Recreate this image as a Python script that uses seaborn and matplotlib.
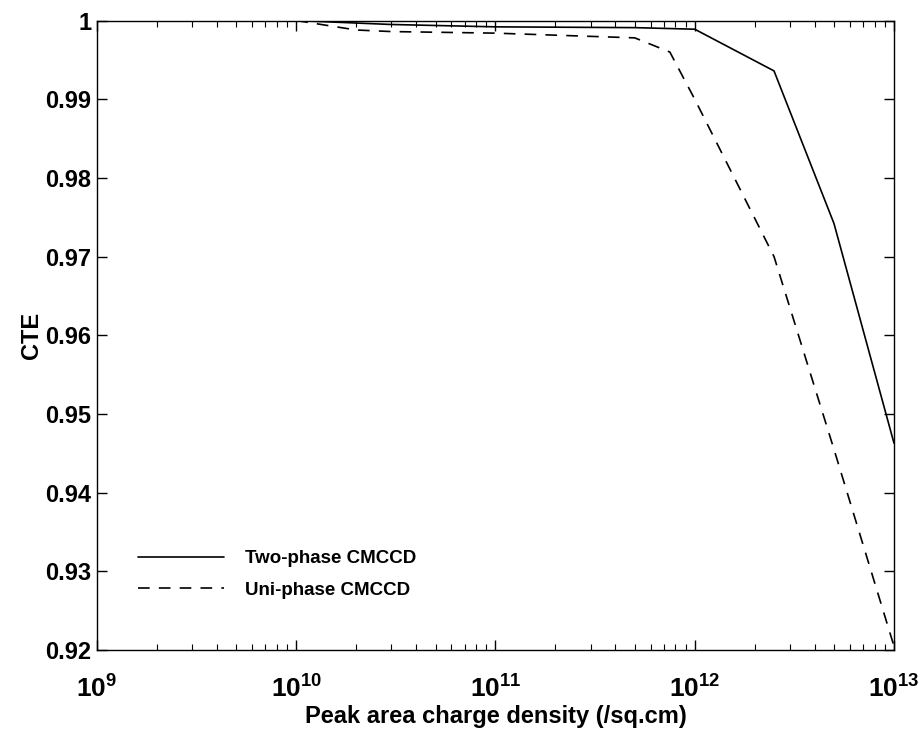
import matplotlib
matplotlib.use("Agg")
import matplotlib.pyplot as plt
import seaborn as sns
import numpy as np
import pandas as pd
from matplotlib.ticker import FixedLocator, FixedFormatter, LogLocator, NullFormatter

# ---- data ----
two_phase_x = [1e10, 3e10, 1e11, 5e11, 1e12, 2.5e12, 5e12, 1e13]
two_phase_y = [1.0, 0.9995, 0.9992, 0.9991, 0.9989, 0.9936, 0.9742, 0.9463]
uni_phase_x = [1e10, 2e10, 3e10, 1e11, 5e11, 7.5e11, 1e12, 2.5e12, 5e12, 1e13]
uni_phase_y = [1.0, 0.9988, 0.9986, 0.9984, 0.9978, 0.9960, 0.9900, 0.9700, 0.9455, 0.9205]
series_names = ["Two-phase CMCCD", "Uni-phase CMCCD"]
x_ticks = [1e9, 1e10, 1e11, 1e12, 1e13]
x_ticklabels = [r"$\mathbf{10^{9}}$", r"$\mathbf{10^{10}}$", r"$\mathbf{10^{11}}$",
                r"$\mathbf{10^{12}}$", r"$\mathbf{10^{13}}$"]
y_ticks = [0.92, 0.93, 0.94, 0.95, 0.96, 0.97, 0.98, 0.99, 1.0]
y_ticklabels = ["0.92", "0.93", "0.94", "0.95", "0.96", "0.97", "0.98", "0.99", "1"]
x_label = "Peak area charge density (/sq.cm)"
y_label = "CTE"

sns.set_theme(style="white")
plt.rcParams["font.family"] = ["Liberation Sans", "DejaVu Sans"]
plt.rcParams["mathtext.fontset"] = "custom"
plt.rcParams["mathtext.bf"] = "Liberation Sans:bold"
plt.rcParams["mathtext.rm"] = "Liberation Sans:bold"
plt.rcParams["text.color"] = "black"
plt.rcParams["axes.labelcolor"] = "black"
plt.rcParams["xtick.color"] = "black"
plt.rcParams["ytick.color"] = "black"

df = pd.concat([
    pd.DataFrame({"x": two_phase_x, "y": two_phase_y, "series": series_names[0]}),
    pd.DataFrame({"x": uni_phase_x, "y": uni_phase_y, "series": series_names[1]}),
], ignore_index=True)

fig = plt.figure(figsize=(9.24, 7.34), dpi=100)
ax = fig.add_axes([0.105, 0.1144, 0.8625, 0.8576])

sns.lineplot(data=df, x="x", y="y", style="series", color="black",
             dashes={series_names[0]: "", series_names[1]: (7, 5.5)},
             linewidth=1.2, ax=ax, legend=True, sort=False)

ax.set_xscale("log")
ax.set_xlim(1e9, 1e13)
ax.set_ylim(0.92, 1.0)

ax.xaxis.set_major_locator(FixedLocator(x_ticks))
ax.xaxis.set_major_formatter(FixedFormatter(x_ticklabels))
ax.xaxis.set_minor_locator(LogLocator(base=10, subs=np.arange(2, 10), numticks=20))
ax.xaxis.set_minor_formatter(NullFormatter())
ax.yaxis.set_major_locator(FixedLocator(y_ticks))
ax.yaxis.set_major_formatter(FixedFormatter(y_ticklabels))

ax.tick_params(axis="both", which="major", direction="in", length=7, width=1,
               top=True, right=True, left=True, bottom=True,
               labelsize=17, colors="black")
ax.tick_params(axis="y", which="major", pad=4)
ax.tick_params(axis="x", which="major", pad=18, labelsize=19)
ax.tick_params(axis="x", which="minor", direction="in", length=4, width=0.8,
               top=True, bottom=True)
for lab in ax.get_yticklabels():
    lab.set_fontweight("bold")

for s in ax.spines.values():
    s.set_color("black")
    s.set_linewidth(1.0)

ax.set_xlabel(x_label, fontsize=17, fontweight="bold", labelpad=2)
ax.set_ylabel(y_label, fontsize=17, fontweight="bold", labelpad=2)

leg = ax.legend(loc="lower left", bbox_to_anchor=(0.03, 0.055), frameon=False,
                fontsize=13.5, handlelength=4.6, handletextpad=1.1, labelspacing=0.75)
for t in leg.get_texts():
    t.set_fontweight("bold")
    t.set_color("black")

fig.savefig("out.png", dpi=100, facecolor="white")
